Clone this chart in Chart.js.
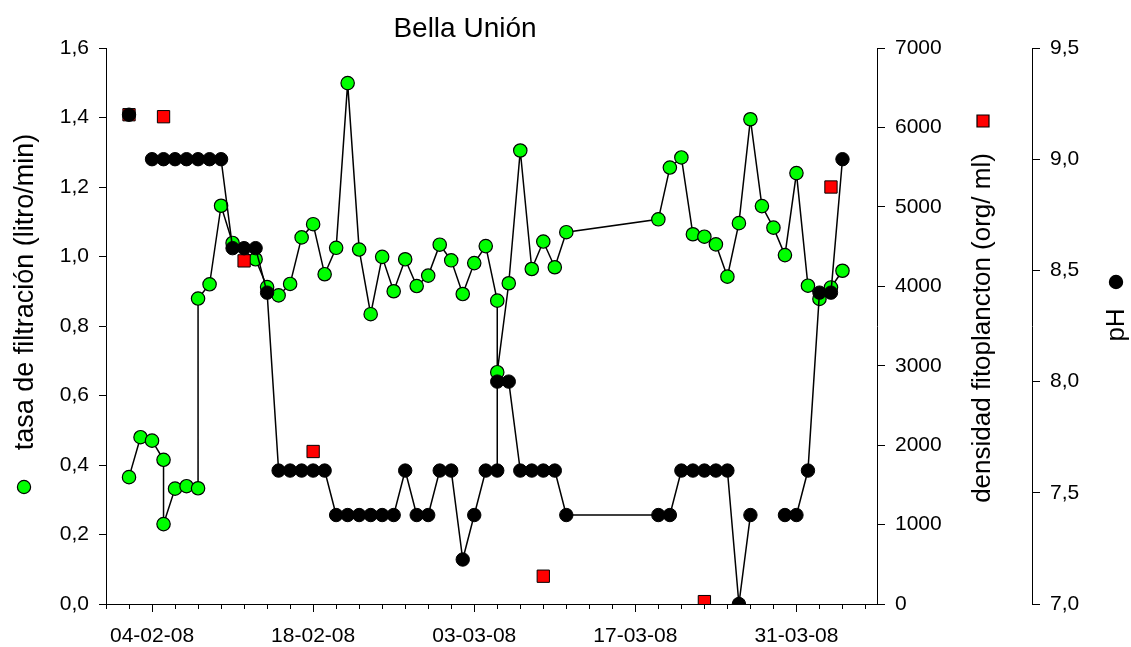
<!DOCTYPE html>
<html>
<head>
<meta charset="utf-8">
<script src="https://cdn.jsdelivr.net/npm/chart.js@4.4.1/dist/chart.umd.min.js"></script>
<style>
html,body{margin:0;padding:0;background:#fff;}
#wrap{width:1131px;height:647px;}
</style>
</head>
<body>
<div id="wrap"><canvas id="c" width="1131" height="647"></canvas></div>
<script>
const FONT = "'Liberation Sans', Arial, Helvetica, sans-serif";

const chartTitle = 'Bella Unión';
const filtLabel = 'tasa de filtración (litro/min)';
const densLabel = 'densidad fitoplancton (org/ ml)';
const phLabel = 'pH';

// x values: days counted from 31-01-08 (= day 0)
const xMin = 0, xMax = 67;
const xTickDays = [4, 18, 32, 46, 60];
const xTickLabels = ['04-02-08', '18-02-08', '03-03-08', '17-03-08', '31-03-08'];

// tasa de filtración (litro/min)
const filtDays = [2, 3, 4, 5, 5, 6, 7, 8, 8, 9, 10, 11, 13, 14, 15, 16, 17, 18, 19, 20,
  21, 22, 23, 24, 25, 26, 27, 28, 29, 30, 31, 32, 33, 34, 34, 35, 36, 37, 38, 39, 40,
  48, 49, 50, 51, 52, 53, 54, 55, 56, 57, 58, 59, 60, 61, 62, 63, 64];
const filtValues = [0.365, 0.48, 0.47, 0.415, 0.23, 0.332, 0.339, 0.333, 0.879, 0.92, 1.146, 1.039, 0.992, 0.912, 0.888, 0.921, 1.055, 1.093, 0.949, 1.025,
  1.499, 1.02, 0.834, 0.999, 0.9, 0.992, 0.915, 0.945, 1.034, 0.989, 0.892, 0.981, 1.03, 0.873, 0.667, 0.923, 1.305, 0.964, 1.043, 0.969, 1.07,
  1.107, 1.256, 1.285, 1.064, 1.057, 1.035, 0.942, 1.096, 1.395, 1.145, 1.083, 1.004, 1.24, 0.916, 0.878, 0.911, 0.959];

// pH (null = no measurement, line broken)
const phDays = [2, 3, 4, 5, 6, 7, 8, 9, 10, 11, 12, 13, 14, 15, 16, 17, 18, 19, 20, 21, 22, 23, 24, 25,
  26, 27, 28, 29, 30, 31, 32, 33, 34, 34, 35, 36, 37, 38, 39, 40, 48, 49, 50, 51, 52, 53, 54, 55, 56, 57,
  59, 60, 61, 62, 63, 64];
const phValues = [9.2, null, 9.0, 9.0, 9.0, 9.0, 9.0, 9.0, 9.0, 8.6, 8.6, 8.6, 8.4, 7.6, 7.6, 7.6, 7.6, 7.6, 7.4, 7.4, 7.4, 7.4, 7.4, 7.4,
  7.6, 7.4, 7.4, 7.6, 7.6, 7.2, 7.4, 7.6, 7.6, 8.0, 8.0, 7.6, 7.6, 7.6, 7.6, 7.4, 7.4, 7.4, 7.6, 7.6, 7.6, 7.6, 7.6, 7.0, 7.4, null,
  7.4, 7.4, 7.6, 8.4, 8.4, 9.0];

// densidad fitoplancton (org/ ml)
const densDays = [2, 5, 12, 18, 38, 52, 63];
const densValues = [6160, 6135, 4320, 1920, 350, 30, 5250];

const toXY = (xs, ys) => xs.map((d, i) => ({ x: d, y: ys[i] }));
const comma = (v, d) => Number(v).toFixed(d).replace('.', ',');

const decor = {
  id: 'decor',
  afterDraw(chart) {
    const ctx = chart.ctx;
    ctx.save();
    ctx.fillStyle = '#000';
    ctx.textBaseline = 'alphabetic';
    ctx.textAlign = 'center';
    ctx.font = '28px ' + FONT;
    ctx.fillText(chartTitle, 465, 37);
    const rot = (text, x, y, size) => {
      ctx.save();
      ctx.translate(x, y);
      ctx.rotate(-Math.PI / 2);
      ctx.font = size + 'px ' + FONT;
      ctx.textAlign = 'center';
      ctx.fillText(text, 0, 0);
      ctx.restore();
    };
    rot(filtLabel, 33, 292, 27);
    rot(densLabel, 990, 328, 26);
    rot(phLabel, 1124, 325, 26);
    // legend symbols
    ctx.lineWidth = 1.2;
    ctx.strokeStyle = '#000';
    ctx.beginPath(); ctx.arc(24, 487, 6.6, 0, Math.PI * 2);
    ctx.fillStyle = '#00ff00'; ctx.fill(); ctx.stroke();
    ctx.beginPath(); ctx.rect(983 - 6, 121 - 6, 12, 12);
    ctx.fillStyle = '#ff0000'; ctx.fill(); ctx.stroke();
    ctx.beginPath(); ctx.arc(1116, 282, 6.6, 0, Math.PI * 2);
    ctx.fillStyle = '#000'; ctx.fill(); ctx.stroke();
    ctx.restore();
  }
};

const tickFont = { family: FONT, size: 21 };

new Chart(document.getElementById('c'), {
  type: 'line',
  data: {
    datasets: [
      {
        label: phLabel, yAxisID: 'ph', xAxisID: 'x',
        data: toXY(phDays, phValues),
        borderColor: '#000', borderWidth: 1.5, tension: 0, spanGaps: false,
        pointRadius: 6.7, pointBackgroundColor: '#000', pointBorderColor: '#000', pointBorderWidth: 1
      },
      {
        label: densLabel, yAxisID: 'yd', xAxisID: 'x',
        data: toXY(densDays, densValues),
        showLine: false, pointStyle: 'rect',
        pointRadius: 8.7, pointBackgroundColor: '#ff0000', pointBorderColor: '#000', pointBorderWidth: 1
      },
      {
        label: filtLabel, yAxisID: 'y', xAxisID: 'x',
        data: toXY(filtDays, filtValues),
        borderColor: '#000', borderWidth: 1.5, tension: 0,
        pointRadius: 6.7, pointBackgroundColor: '#00ff00', pointBorderColor: '#000', pointBorderWidth: 1.2
      }
    ]
  },
  options: {
    responsive: false,
    animation: false,
    devicePixelRatio: 1,
    layout: { padding: { top: 48, left: 0, right: 0, bottom: 0 } },
    plugins: { legend: { display: false }, tooltip: { enabled: false }, title: { display: false } },
    scales: {
      x: {
        type: 'linear', position: 'bottom', min: xMin, max: xMax,
        afterBuildTicks: s => { s.ticks = xTickDays.map(v => ({ value: v })); },
        afterFit: s => { s.height = 43; },
        ticks: {
          callback: v => { const i = xTickDays.indexOf(v); return i >= 0 ? xTickLabels[i] : ''; },
          font: tickFont, color: '#000', padding: 12, maxRotation: 0, autoSkip: false
        },
        grid: { drawOnChartArea: false, drawTicks: true, tickLength: 8, tickColor: '#000', tickWidth: 1 },
        border: { display: true, color: '#000', width: 1 }
      },
      xm: {
        type: 'linear', axis: 'x', position: { y: 0 }, min: xMin, max: xMax,
        afterBuildTicks: s => { const t = []; for (let d = xMin; d < xMax; d += 2) t.push({ value: d }); s.ticks = t; },
        ticks: { display: false },
        grid: { drawOnChartArea: false, drawTicks: true, tickLength: 5, tickColor: '#000', tickWidth: 1 },
        border: { display: false }
      },
      y: {
        type: 'linear', position: 'left', min: 0, max: 1.6,
        afterFit: s => { s.width = 106; },
        ticks: { stepSize: 0.2, callback: v => comma(v, 1), font: tickFont, color: '#000', padding: 10 },
        grid: { drawOnChartArea: false, drawTicks: true, tickLength: 7, tickColor: '#000', tickWidth: 1 },
        border: { display: true, color: '#000', width: 1 }
      },
      yd: {
        type: 'linear', position: 'right', weight: 0, min: 0, max: 7000,
        afterFit: s => { s.width = 155; },
        ticks: { stepSize: 1000, callback: v => String(v), font: tickFont, color: '#000', padding: 10 },
        grid: { drawOnChartArea: false, drawTicks: true, tickLength: 8, tickColor: '#000', tickWidth: 1 },
        border: { display: true, color: '#000', width: 1 }
      },
      ph: {
        type: 'linear', position: 'right', weight: 1, min: 7, max: 9.5,
        afterFit: s => { s.width = 99; },
        ticks: { stepSize: 0.5, callback: v => comma(v, 1), font: tickFont, color: '#000', padding: 10 },
        grid: { drawOnChartArea: false, drawTicks: true, tickLength: 8, tickColor: '#000', tickWidth: 1 },
        border: { display: true, color: '#000', width: 1 }
      }
    }
  },
  plugins: [decor]
});
</script>
</body>
</html>
